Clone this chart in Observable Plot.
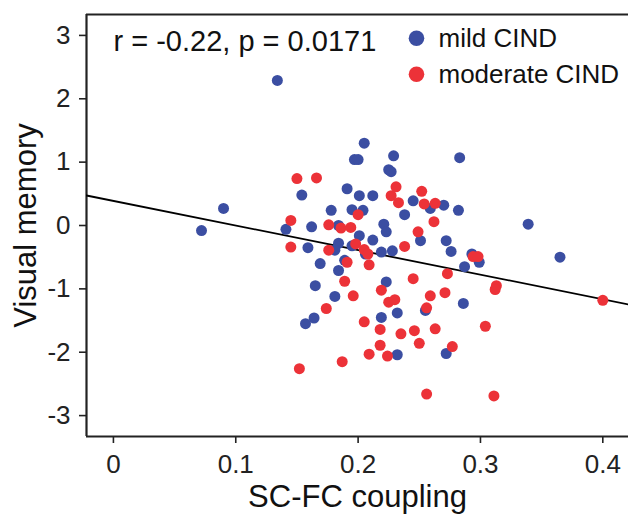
<!DOCTYPE html>
<html>
<head>
<meta charset="utf-8">
<script src="https://cdn.jsdelivr.net/npm/d3@7"></script>
<script src="https://cdn.jsdelivr.net/npm/@observablehq/plot@0.6"></script>
<style>
  html, body { margin: 0; padding: 0; background: #fff; }
  #chart svg { display: block; }
</style>
</head>
<body>
<div id="chart"></div>
<script>
// --- Data ---
const mildX = [0.134,0.090,0.072,0.141,0.154,0.162,0.205,0.197,0.200,0.229,0.225,0.227,0.283,0.191,0.201,0.212,0.178,0.195,0.204,0.184,0.221,0.223,0.201,0.212,0.159,0.184,0.181,0.195,0.206,0.219,0.228,0.169,0.189,0.184,0.223,0.165,0.181,0.164,0.157,0.219,0.245,0.259,0.270,0.238,0.282,0.251,0.272,0.276,0.293,0.299,0.287,0.286,0.232,0.255,0.232,0.272,0.339,0.365];
const mildY = [2.29,0.27,-0.08,-0.06,0.48,-0.02,1.30,1.04,1.04,1.10,0.88,0.85,1.07,0.58,0.47,0.47,0.24,0.25,0.24,0.00,0.02,-0.10,-0.16,-0.23,-0.35,-0.28,-0.39,-0.32,-0.45,-0.42,-0.40,-0.60,-0.55,-0.71,-0.89,-0.95,-1.12,-1.46,-1.55,-1.45,0.39,0.27,0.32,0.17,0.24,-0.24,-0.24,-0.41,-0.45,-0.58,-0.65,-1.23,-1.38,-1.34,-2.04,-2.02,0.02,-0.50];
const modX = [0.150,0.166,0.227,0.231,0.233,0.252,0.254,0.263,0.262,0.200,0.145,0.176,0.186,0.194,0.145,0.176,0.198,0.205,0.208,0.191,0.209,0.249,0.238,0.294,0.298,0.189,0.219,0.196,0.225,0.230,0.174,0.205,0.218,0.218,0.209,0.224,0.187,0.152,0.273,0.245,0.313,0.312,0.259,0.271,0.256,0.304,0.246,0.263,0.235,0.250,0.277,0.256,0.311,0.400];
const modY = [0.74,0.75,0.47,0.61,0.36,0.54,0.34,0.35,0.06,0.17,0.08,0.01,-0.04,-0.03,-0.34,-0.39,-0.29,-0.38,-0.45,-0.58,-0.62,-0.10,-0.33,-0.49,-0.49,-0.88,-1.02,-1.11,-1.21,-1.17,-1.31,-1.52,-1.64,-1.89,-2.03,-2.06,-2.15,-2.26,-0.76,-0.84,-0.95,-1.01,-1.11,-1.06,-1.30,-1.59,-1.66,-1.63,-1.71,-1.86,-1.91,-2.66,-2.69,-1.18];

const seriesNames = ["mild CIND", "moderate CIND"];
const seriesColors = ["#3b4ea2", "#ec3238"];
const xTicks = [0, 0.1, 0.2, 0.3, 0.4];
const yTicks = [-3, -2, -1, 0, 1, 2, 3];
const xDomain = [-0.022, 0.421];
const yDomain = [-3.33, 3.33];
const fitSlope = -3.88;
const fitIntercept = 0.388;
const statText = "r = -0.22, p = 0.0171";
const xLabel = "SC-FC coupling";
const yLabel = "Visual memory";

// --- Build tables ---
const mild = mildX.map((x, i) => ({x, y: mildY[i]}));
const moderate = modX.map((x, i) => ({x, y: modY[i]}));
const fit = xDomain.map(x => ({x, y: fitIntercept + fitSlope * x}));

const font = "'Liberation Sans', Arial, Helvetica, sans-serif";
const axisColor = "#222";

// legend marks (one dot + label per series, stacked)
const legendMarks = seriesNames.flatMap((name, i) => [
  Plot.dot([name], {frameAnchor: "top-left", dx: 330, dy: 23.7 + 36 * i, r: 7.8, fill: seriesColors[i], stroke: "none"}),
  Plot.text([name], {frameAnchor: "top-left", textAnchor: "start", lineAnchor: "bottom", dx: 352, dy: 32 + 36 * i, fontSize: 26, fill: "#111"})
]);

const chart = Plot.plot({
  width: 628,
  height: 515,
  marginLeft: 86,
  marginTop: 14,
  marginRight: 0,
  marginBottom: 79,
  style: {fontFamily: font, color: axisColor, background: "#fff"},
  x: {domain: xDomain},
  y: {domain: yDomain},
  marks: [
    // frame lines: left, bottom, top
    Plot.ruleX([xDomain[0]], {stroke: axisColor, strokeWidth: 2.2}),
    Plot.ruleY([yDomain[0]], {stroke: axisColor, strokeWidth: 2.2}),
    Plot.ruleY([yDomain[1]], {stroke: axisColor, strokeWidth: 2.2}),
    Plot.axisY(yTicks, {tickSize: 7, tickPadding: 9, fontSize: 26, strokeWidth: 1.6, label: null, tickFormat: d => String(d)}),
    Plot.axisX(xTicks, {tickSize: 7, tickPadding: 11, fontSize: 26, strokeWidth: 1.6, label: null, tickFormat: d => String(d)}),
    Plot.line(fit, {x: "x", y: "y", stroke: "#000", strokeWidth: 1.8, clip: true}),
    Plot.dot(mild, {x: "x", y: "y", r: 5.5, fill: seriesColors[0], stroke: "none"}),
    Plot.dot(moderate, {x: "x", y: "y", r: 5.5, fill: seriesColors[1], stroke: "none"}),
    // axis titles
    Plot.text([xLabel], {frameAnchor: "bottom", textAnchor: "middle", lineAnchor: "bottom", dy: 70, fontSize: 31, fill: "#111"}),
    Plot.text([yLabel], {frameAnchor: "left", textAnchor: "middle", lineAnchor: "bottom", rotate: -90, dx: -51, fontSize: 31, fill: "#111"}),
    // stat annotation
    Plot.text([statText], {frameAnchor: "top-left", textAnchor: "start", lineAnchor: "bottom", dx: 27, dy: 36, fontSize: 29, fill: "#111"}),
    ...legendMarks
  ]
});
document.getElementById("chart").appendChild(chart);
</script>
</body>
</html>
